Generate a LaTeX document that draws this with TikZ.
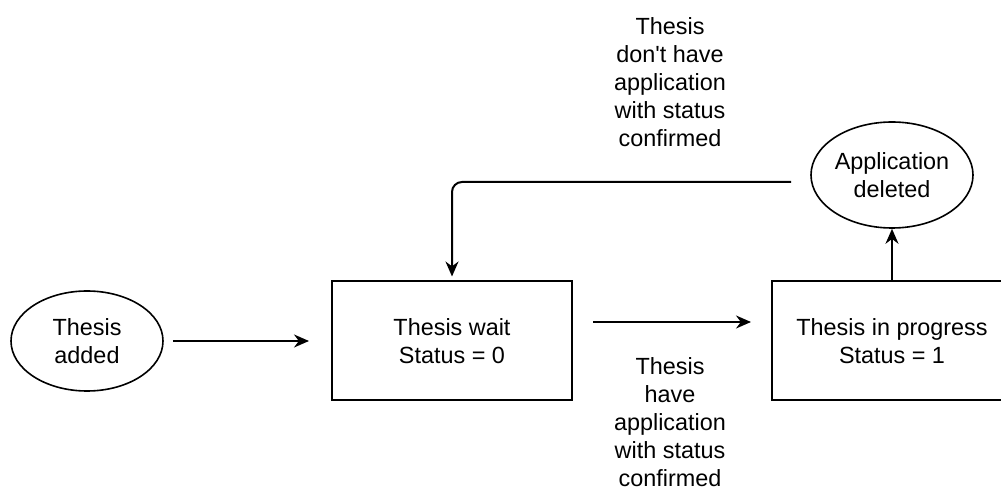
\documentclass[tikz,border=0pt]{standalone}
\usepackage{fontspec}
\setmainfont{Liberation Sans}
\usetikzlibrary{shapes.geometric,arrows.meta}

\begin{document}
\begin{tikzpicture}[x=0.5pt, y=-0.5pt,
		every node/.style={font=\fontsize{11.7pt}{14pt}\selectfont, align=center},
		statebox/.style={draw, line width=1pt, minimum width=120pt, minimum height=59.5pt},
		event/.style={draw, ellipse, line width=0.8pt, inner sep=0pt},
		arr/.style={-{Stealth[length=7.5pt, width=6.5pt]}, line width=1pt}]
		\useasboundingbox (0,0) rectangle (1001,491);
		\node (added) [event, minimum width=76pt, minimum height=50pt] at (87,341) {Thesis\\added};
		\node (wait) [statebox] at (452,341) {Thesis wait\\Status = 0};
		\node (progress) [statebox] at (892,341) {Thesis in progress\\Status = 1};
		\node (deleted) [event, minimum width=81pt, minimum height=53pt] at (892,175) {Application\\deleted};
		\node (nolabel) at (670,82) {Thesis\\don\textquotesingle t have\\application\\with status\\confirmed};
		\node (yeslabel) at (670,422) {Thesis\\have\\application\\with status\\confirmed};
		\draw [arr, shorten <=4.5pt, shorten >=11pt] (added.east) -- (wait.west);
		\draw [arr, shorten <=10pt, shorten >=10pt] ([yshift=9.5pt]wait.east) -- ([yshift=9.5pt]progress.west);
		\draw [arr] (progress.north) -- (deleted.south);
		\draw [arr, rounded corners=5pt, shorten <=9.5pt, shorten >=2pt] ([yshift=-3.5pt]deleted.west) -| (wait.north);
	\end{tikzpicture}
\end{document}
